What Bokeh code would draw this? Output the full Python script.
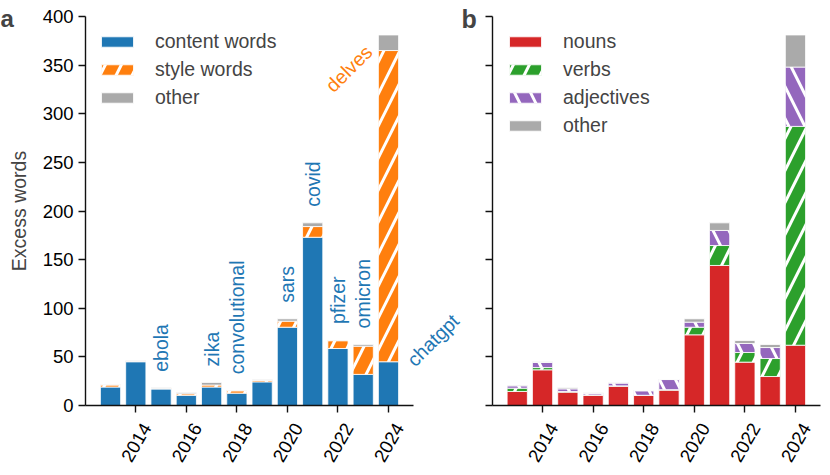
import math
import numpy as np
from bokeh.plotting import figure
from bokeh.models import (Range1d, FixedTicker, Label, Legend, LegendItem, LinearAxis,
                          CustomJSTickFormatter)
from bokeh.layouts import row
from bokeh.embed import file_html
from bokeh.resources import INLINE

years = [2013, 2014, 2015, 2016, 2017, 2018, 2019, 2020, 2021, 2022, 2023, 2024]
year_ticks = [2014, 2016, 2018, 2020, 2022, 2024]
y_ticks = [0, 50, 100, 150, 200, 250, 300, 350, 400]

# panel a
content_words = [19, 45, 17, 10.5, 19, 12.7, 24.3, 80.5, 173, 58.6, 32, 45]
style_words = [2, 0.5, 0.4, 1.5, 2, 2.4, 1.4, 6.2, 11, 8, 29, 320]
other_a = [0.6, 0.4, 0.8, 1, 2.7, 0.5, 1, 2.4, 3.8, 0.6, 1.8, 16]

# panel b
nouns = [14.4, 36.7, 13.7, 10.6, 19.9, 10.3, 15.8, 72.7, 144, 44.6, 29.8, 62]
verbs = [3.4, 2.3, 0.7, 0.3, 0.3, 0.2, 0.5, 7.8, 20.5, 9.9, 18.5, 225]
adjectives = [2.4, 5.2, 2.7, 1.4, 2.8, 4.6, 10.4, 5.2, 15.5, 9.3, 11.3, 61]
other_b = [0.7, 0.7, 1.1, 0.7, 0.6, 0.3, 0.3, 3.4, 7.8, 3, 3.1, 33]

# annotated words
words = ["ebola", "zika", "convolutional", "sars", "covid", "pfizer", "omicron"]
word_years = [2015, 2017, 2018, 2020, 2021, 2022, 2023]

FONT = "Liberation Sans"
BLUE = "#1f77b4"
ORANGE = "#ff7f0e"
GRAY = "#aaaaaa"
RED = "#d62728"
GREEN = "#2ca02c"
PURPLE = "#9467bd"

X0, X1 = 2012.01, 2024.99   # axis extent (data)
Y0, Y1 = 0, 400
H = 467                      # canvas height
AX_TOP, AX_BOT = 16, 405     # canvas y of y=400 and y=0


def style_axis(ax):
    ax.axis_line_width = 1.4
    ax.axis_line_color = "#111111"
    ax.major_tick_line_width = 1.4
    ax.major_tick_line_color = "#111111"
    ax.major_tick_out = 7
    ax.major_tick_in = 0
    ax.minor_tick_line_color = None
    ax.major_label_text_font = FONT
    ax.major_label_text_font_size = "18.5px"
    ax.major_label_text_color = "black"
    ax.major_label_standoff = 5


def make_fig(width, ax_left, ax_right, show_ylabels):
    """Frame fills the whole canvas; axes are placed with fixed_location."""
    kx = (ax_right - ax_left) / (X1 - X0)
    ky = (AX_BOT - AX_TOP) / (Y1 - Y0)
    xr = Range1d(X0 - ax_left / kx, X0 + (width - ax_left) / kx)
    yr = Range1d(Y0 - (H - AX_BOT) / ky, Y1 + AX_TOP / ky)
    p = figure(width=width, height=H, output_backend="svg", toolbar_location=None,
               x_range=xr, y_range=yr, x_axis_location=None, y_axis_location=None,
               min_border=0)
    p.outline_line_color = None
    p.grid.visible = False

    xa = LinearAxis(fixed_location=Y0, bounds=(X0, X1), ticker=FixedTicker(ticks=year_ticks),
                    formatter=CustomJSTickFormatter(code="return ''"))
    style_axis(xa)
    p.add_layout(xa, "below")

    # tick labels, centred under their ticks like the rotated labels of the reference
    xl = LinearAxis(fixed_location=Y0, bounds=(X0, X1 + 0.5),
                    ticker=FixedTicker(ticks=[t + 0.42 for t in year_ticks]),
                    formatter=CustomJSTickFormatter(code="return Math.floor(tick).toFixed(0)"))
    style_axis(xl)
    xl.axis_line_color = None
    xl.major_tick_line_color = None
    xl.major_label_standoff = 12
    xl.major_label_orientation = math.pi / 3
    p.add_layout(xl, "below")

    ya = LinearAxis(fixed_location=X0, bounds=(Y0, Y1), ticker=FixedTicker(ticks=y_ticks))
    style_axis(ya)
    if not show_ylabels:
        ya.formatter = CustomJSTickFormatter(code="return ''")
    p.add_layout(ya, "left")

    def x_px(px):
        return xr.start + px / kx

    def y_px(py):
        return yr.end - py / ky
    return p, ya, x_px, y_px


def stack(p, series, colors, hatches, labels):
    bottom = np.zeros(len(years))
    items = []
    for vals, col, hat, lab in zip(series, colors, hatches, labels):
        top = bottom + np.array(vals, dtype=float)
        kw = {}
        if hat:
            kw = dict(hatch_pattern=hat, hatch_color="white", hatch_weight=3, hatch_scale=32)
        r = p.vbar(x=years, bottom=bottom, top=top, width=0.8, fill_color=col,
                   line_color="white", line_width=0.8, **kw)
        items.append(LegendItem(label=lab, renderers=[r]))
        bottom = top
    return items, bottom


def add_legend(p, items, vx, top):
    n = len(items)
    lh = n * 23 + (n - 1) * 5
    leg = Legend(items=items, location=(vx, H - top - lh), border_line_color=None,
                 background_fill_alpha=0, glyph_width=40, glyph_height=13,
                 label_height=23, spacing=5, padding=0, margin=0,
                 label_standoff=18, label_text_font=FONT, label_text_font_size="19.5px")
    p.add_layout(leg)


# ---------- panel a ----------
pa, ya_a, xpa, ypa = make_fig(461, 85, 413, True)
items_a, totals_a = stack(pa, [content_words, style_words, other_a], [BLUE, ORANGE, GRAY],
                          [None, "/", None], ["content words", "style words", "other"])
add_legend(pa, items_a, 97, 30)
ya_a.axis_label = "Excess words"
ya_a.axis_label_text_font = FONT
ya_a.axis_label_text_font_size = "19.5px"
ya_a.axis_label_text_font_style = "normal"
ya_a.axis_label_standoff = 10

for w, yr in zip(words, word_years):
    i = years.index(yr)
    pa.add_layout(Label(x=yr, y=totals_a[i] + 16.5, text=w, angle=math.pi / 2,
                        text_align="left", text_baseline="middle", text_color=BLUE,
                        text_font=FONT, text_font_size="19.5px"))

cum_style = np.array(content_words) + np.array(style_words)
pa.add_layout(Label(x=years[-1] - 0.78, y=cum_style[-1] + 2, text="delves", angle=math.pi / 4,
                    text_align="right", text_baseline="alphabetic", text_color=ORANGE,
                    text_font=FONT, text_font_size="19.5px"))
pa.add_layout(Label(x=years[-1] + 0.86, y=content_words[-1] - 1, text="chatgpt", angle=math.pi / 4,
                    text_align="left", text_baseline="alphabetic", text_color=BLUE,
                    text_font=FONT, text_font_size="19.5px"))
pa.add_layout(Label(x=xpa(0), y=ypa(18), text="a", text_font=FONT, text_font_size="24px",
                    text_font_style="bold", text_align="left", text_baseline="alphabetic"))

# ---------- panel b ----------
pb, ya_b, xpb, ypb = make_fig(361, 30.7, 359, False)
items_b, totals_b = stack(pb, [nouns, verbs, adjectives, other_b], [RED, GREEN, PURPLE, GRAY],
                          [None, "/", "\\", None], ["nouns", "verbs", "adjectives", "other"])
add_legend(pb, items_b, 44, 30)
pb.add_layout(Label(x=xpb(0), y=ypb(18), text="b", text_font=FONT, text_font_size="25px",
                    text_font_style="bold", text_align="left", text_baseline="alphabetic"))

layout = row(pa, pb)
open("out.html", "w").write(file_html(layout, INLINE))
